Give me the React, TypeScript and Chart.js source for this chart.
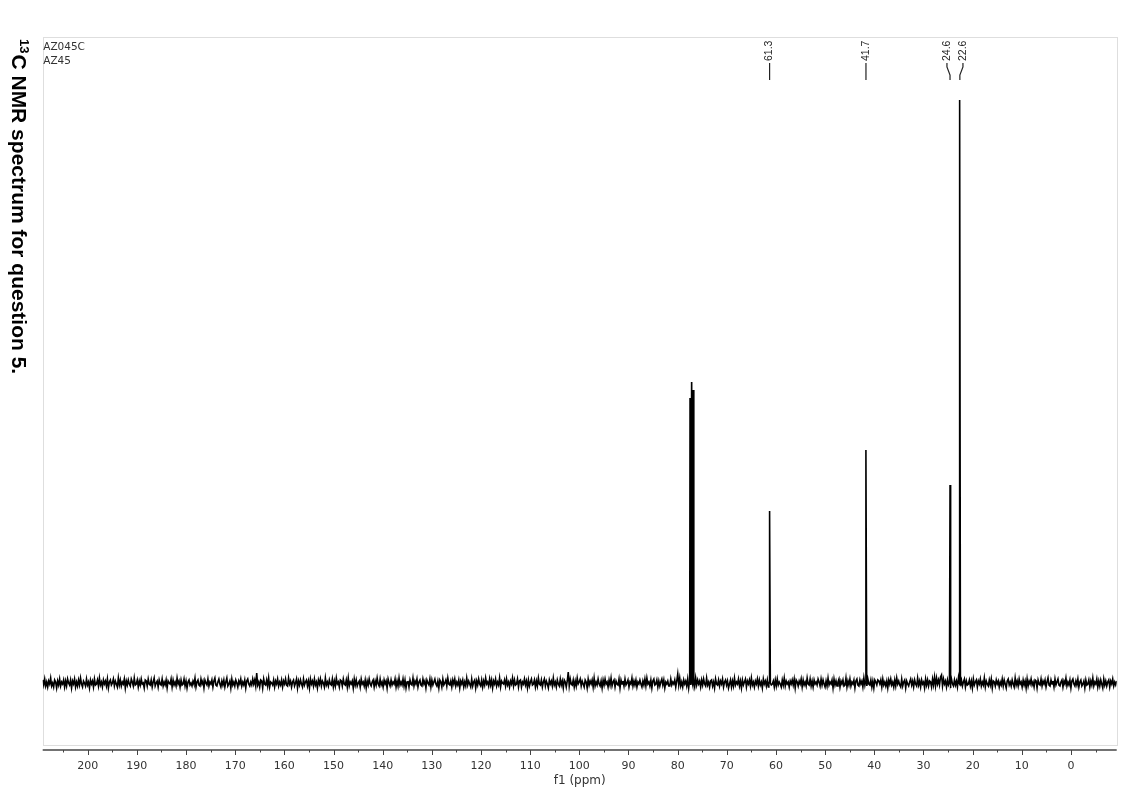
import React, { useEffect, useRef } from 'react';
import { Chart, registerables } from 'chart.js';

Chart.register(...registerables);

// ---- axis range (ppm) and intensity range ----
const X_MAX = 209.15;
const X_MIN = -9.3;
const Y_MIN = -62;
const Y_MAX = 646;

// ---- tick labels ----
const MAJOR_TICKS = [200, 190, 180, 170, 160, 150, 140, 130, 120, 110, 100, 90, 80, 70, 60, 50, 40, 30, 20, 10, 0];
const MINOR_TICKS = [205, 195, 185, 175, 165, 155, 145, 135, 125, 115, 105, 95, 85, 75, 65, 55, 45, 35, 25, 15, 5, -5];

// ---- peaks (ppm, intensity) ----
const PEAK_PPM = [77.48, 77.16, 76.84, 61.3, 41.7, 24.6, 22.6];
const PEAK_HEIGHT = [285, 301, 293, 172, 233, 198, 583];

// ---- peak annotations ----
const LABEL_PPM = [61.3, 41.7, 24.6, 22.6];
const LABEL_TEXT = ['61.3', '41.7', '24.6', '22.6'];

// ---- texts ----
const SAMPLE_LINES = ['AZ045C', 'AZ45'];
const TITLE_SUP = '13';
const TITLE_MAIN = 'C NMR spectrum for question 5.';
const X_TITLE = 'f1 (ppm)';

const NOISE = [
  3, -2, 4, -3, 1, -4, 2, -1, 5, -3, 0, -4, 3, 1, -5, 2, -2, 4, -3, 1, -1, 3, -4, 2, -3, 4, 0, -2, 3, -5,
  2, -1, 4, -4, 1, -3, 3, -2, 5, -1, -4, 2, 0, -3, 4, -2, 1, -5, 3, -1, 2, -4, 4, -2, -1, 3, -3, 5, -2, 1,
  -4, 3, -1, 2, -3, 4, -5, 1, 3, -2, 0, 4, -3, 2, -1, -4, 5, -2, 3, -3, 1, -1, 4, -5, 2, -2, 3, -1, -3, 4,
  1, -3, 5, -2, -1, 3, -4, 2, -2, 4, -1, 0, -5, 3, 2, -3, 4, -1, -2, 3, -4, 1, 5, -3, 0, 2, -4, 3, -1, -2,
  4, -3, 1, -2, 3, -5, 2, 0, -1, 4, -4, 3, -2, 1, -3, 5, -1, 2, -4, 3, -2, -1, 4, -3, 2, -5, 1, 3, -2, 0,
  -3, 2, -1, 5, -4, 1, 3, -2, -3, 4, -1, 2, -5, 3, 0, -2, 4, -3, 1, -1, 3, -4, 2, 5, -2, -3, 1, 4, -1, -4,
  2, -2, 3, -4, 1, 5, -3, -1, 2, -5, 4, -2, 1, -3, 3, 0, -4, 2, -1, 4, -3, 1, -2, 3, -5, 2, 4, -1, -3, 1,
  -2, 4, -1, 3, -3, 10, -2, 1, -4, 3, 2, -5, 4, -1, -2, 3, -3, 5, -4, 1, 0, -2, 3, -4, 2, -1, 4, -3, 1, -2,
  3, -4, 2, -1, 4, -2, -3, 5, -1, 2, -4, 1, 3, -3, 0, 4, -5, 2, -2, 3, -1, -4, 4, -2, 1, 3, -3, 2, -5, 4,
  -1, 2, -3, 4, -2, 1, -5, 3, -1, 4, -3, 2, 0, -4, 5, -2, 1, -3, 3, -1, -2, 4, -4, 2, -3, 5, -1, 1, -4, 3,
  2, -3, 4, -1, -2, 3, -4, 5, -3, 1, -1, 2, -5, 4, -2, 3, -3, 0, 2, -4, 4, -1, 1, -3, 3, -5, 2, -2, 4, -1,
  -3, 1, 3, -4, 2, -2, 5, -1, -3, 4, -2, 1, -4, 3, -1, 2, -5, 4, 0, -3, 3, -2, 1, -1, 4, -4, 2, -3, 5, -2,
  1, -2, 4, -3, 3, -5, 1, 2, -4, 3, -1, -2, 5, -3, 2, -1, 4, -4, 1, 3, -2, -3, 4, -1, 2, -5, 3, 0, -2, 4,
  -4, 3, -2, 1, 4, -1, -3, 2, -5, 3, 1, -4, 4, -2, 0, 3, -3, 5, -1, -2, 2, -4, 3, -1, 4, -3, 1, -2, 3, -5,
  2, -1, 3, -4, 1, -3, 5, -2, 2, -1, -4, 4, -3, 1, 3, -5, 2, -2, 4, -1, -3, 3, -4, 2, -2, 5, -1, 1, -3, 4,
  -2, 3, -5, 2, -1, 4, -3, 1, -2, 5, -4, 2, 0, -1, 3, -3, 4, -2, 1, -4, 2, -1, 5, -3, 3, -2, -1, 4, -4, 2,
  3, -4, 1, -1, 4, -2, 2, -5, 3, -3, 1, 4, -2, -1, 3, -4, 2, -3, 5, -1, -2, 3, -4, 1, 4, -3, 2, -1, -5, 3,
  -1, 2, -3, 5, -2, 1, -4, 3, -1, -3, 4, -2, 2, -5, 3, 1, -4, 2, 11, -3, 4, -1, -2, 3, -4, 2, -3, 5, -1, 1,
  4, -3, 2, -1, -4, 3, 1, -5, 4, -2, 2, -1, 3, -4, 5, -3, 1, -2, 4, -1, -3, 2, -5, 3, -2, 4, -1, 1, -4, 3,
  -2, 5, -3, 1, 3, -4, 2, -1, -2, 4, -5, 3, -1, 2, -3, 4, -2, 0, 3, -4, 1, -1, 5, -3, 2, -2, 3, -4, 1, -1,
  3, -1, -4, 2, -2, 4, -3, 5, -1, 1, -3, 3, -5, 2, 4, -2, -1, 3, -4, 2, -3, 1, 4, -2, 3, -5, 1, -1, 2, -3,
  -3, 4, -2, 1, -1, 3, -4, 2, 9, -2, 5, -3, 1, -4, 3, -1, 2, -3, 4, -5, 2, -2, 3, -1, 1, -4, 5, -2, 3, -1,
  2, -4, 3, -2, 4, -1, -3, 5, -2, 1, -4, 2, 3, -3, 1, -5, 4, -1, -2, 3, -3, 2, -1, 4, -4, 1, 3, -2, 2, -5,
  -1, 3, -4, 2, -3, 5, -2, 1, -1, 4, -3, 2, -5, 3, -2, 1, 4, -4, 2, -1, 3, -3, 5, -2, 1, -4, 2, -1, 4, -3,
  3, -2, 1, -5, 4, -1, 2, -3, 3, -4, 1, 5, -2, -1, 2, -4, 3, -3, 4, -2, 1, -1, -4, 3, -2, 5, -3, 2, -1, 1,
  -4, 2, -1, 3, -2, 4, -5, 3, 1, -3, 2, -1, 4, -4, 3, -2, 1, -3, 5, -1, -2, 4, -3, 2, -4, 3, -1, 1, -2, 4,
  1, -3, 4, -2, 3, -1, -4, 2, -3, 5, -2, 1, -1, 3, -5, 4, -2, 2, -3, 1, 4, -4, 2, -1, 3, -3, -2, 5, -4, 2,
  -2, 4, -3, 1, -1, 3, -5, 2, 4, -2, -3, 3, -1, 2, -4, 5, -2, 1, -3, 4, -1, -2, 3, -4, 2, -5, 3, 1, -2, 3,
  2, -1, 3, -4, 4, -2, 1, -3, 2, -5, 3, -1, 4, -2, 1, -4, 3, -3, 5, -1, 2, -2, -4, 4, -3, 1, 3, -5, 2, -1,
  -3, 1, 4, -2, 2, -4, 3, -1, -3, 5, -2, 2, -4, 3, -1, 1, -5, 4, -2, 3, -3, 2, 1, -4, 4, -2, 6, -3, 5, -1,
  3, -2, 6, 8, -3, 4, -1, 2, -4, 3, -2, 1, -5, 4, -1, -3, 3, -2, 2, -4, 5, -1, -2, 3, -3, 1, 4, -4, 2, -2,
  -1, 3, -3, 2, -5, 4, -2, 1, 3, -4, 2, -1, 4, -3, 1, -2, 5, -4, 2, -1, -3, 3, -2, 4, -5, 2, 1, -3, 3, -1,
  2, -4, 1, -2, 4, -3, 3, -1, -5, 2, 4, -2, 1, -3, 3, -1, -4, 5, -2, 2, -3, 4, -1, 1, -4, 3, -2, 2, -5, 4,
  -3, 2, -1, 4, -2, 1, -4, 3, 2, -5, 3, -1, -2, 4, -3, 2, -1, 3, -4, 1, 5, -2, -3, 3, -1, 2, -4, 4, -2, 1,
  4, -2, -3, 1, 3, -4, 2, -1, 5, -3, 1, -2, 3, -5, 2, 4, -1, -3, 2, -2, 4, -4, 1, 3, -3, -1, 2, -5, 3, -2,
  -1, 3, -4, 2, -2, 5, -3, 1, -1, 4, -4, 2, -3, 3, -1, -5, 4, -2, 2, -3, 1, 3, -4, 2, -1, 4, -3, 1, -2, 2,
];

const SANS = '"DejaVu Sans", Verdana, sans-serif';
const ARIAL = '"Liberation Sans", Arial, sans-serif';

function buildPoints() {
  const step = (X_MAX - X_MIN) / (NOISE.length - 1);
  const pts = NOISE.map((v, i) => ({ x: X_MAX - i * step, y: v }));
  PEAK_PPM.forEach((p, k) => {
    pts.push({ x: p + 0.15, y: 0 }, { x: p, y: PEAK_HEIGHT[k] }, { x: p - 0.15, y: 0 });
  });
  pts.sort((a, b) => b.x - a.x);
  return pts;
}

const decorPlugin = {
  id: 'decor',
  beforeDatasetsDraw(chart: any) {
    const { ctx, chartArea: a } = chart;
    ctx.save();
    ctx.strokeStyle = '#dedede';
    ctx.lineWidth = 1;
    ctx.strokeRect(Math.round(a.left) + 0.5, Math.round(a.top) + 0.5, Math.round(a.right - a.left), Math.round(a.bottom - a.top));
    ctx.restore();
  },
  afterDraw(chart: any) {
    const { ctx, chartArea: a } = chart;
    const xs = chart.scales.x;
    ctx.save();
    // axis line
    const axisY = a.bottom + 5;
    ctx.strokeStyle = '#444';
    ctx.lineWidth = 1.5;
    ctx.beginPath();
    ctx.moveTo(a.left, axisY);
    ctx.lineTo(a.right, axisY);
    ctx.stroke();
    ctx.lineWidth = 1;
    ctx.beginPath();
    MAJOR_TICKS.forEach((v) => {
      const px = Math.round(xs.getPixelForValue(v)) + 0.5;
      ctx.moveTo(px, axisY);
      ctx.lineTo(px, axisY + 5);
    });
    MINOR_TICKS.forEach((v) => {
      const px = Math.round(xs.getPixelForValue(v)) + 0.5;
      ctx.moveTo(px, axisY);
      ctx.lineTo(px, axisY + 2.5);
    });
    ctx.stroke();

    // sample name
    ctx.fillStyle = '#333';
    ctx.font = `10.5px ${SANS}`;
    ctx.textAlign = 'left';
    ctx.textBaseline = 'alphabetic';
    SAMPLE_LINES.forEach((t, i) => ctx.fillText(t, a.left + 0.5, 50 + i * 14));

    // peak labels
    const peakPx = LABEL_PPM.map((p) => xs.getPixelForValue(p));
    const labelPx = peakPx.slice();
    for (let i = 1; i < labelPx.length; i++) {
      if (labelPx[i] - labelPx[i - 1] < 16) {
        const mid = (peakPx[i] + peakPx[i - 1]) / 2;
        labelPx[i - 1] = mid - 8;
        labelPx[i] = mid + 8;
      }
    }
    ctx.strokeStyle = '#222';
    ctx.fillStyle = '#222';
    ctx.lineWidth = 1.2;
    ctx.font = `10.5px ${ARIAL}`;
    LABEL_TEXT.forEach((t, i) => {
      const lx = labelPx[i];
      const px = peakPx[i];
      ctx.save();
      ctx.translate(lx, 61);
      ctx.rotate(-Math.PI / 2);
      ctx.textAlign = 'left';
      ctx.textBaseline = 'middle';
      ctx.fillText(t, 0, 0);
      ctx.restore();
      ctx.beginPath();
      if (Math.abs(lx - px) < 0.5) {
        ctx.moveTo(lx, 63);
        ctx.lineTo(lx, 80);
      } else {
        ctx.moveTo(lx, 63);
        ctx.lineTo(lx, 67);
        ctx.lineTo(px, 75);
        ctx.lineTo(px, 80);
      }
      ctx.stroke();
    });

    // rotated title on the left
    ctx.save();
    ctx.translate(12, 39);
    ctx.rotate(Math.PI / 2);
    ctx.fillStyle = '#000';
    ctx.textAlign = 'left';
    ctx.textBaseline = 'alphabetic';
    ctx.font = `bold 13px ${ARIAL}`;
    ctx.fillText(TITLE_SUP, 0, -8);
    const w = ctx.measureText(TITLE_SUP).width;
    ctx.font = `bold 21px ${ARIAL}`;
    ctx.fillText(TITLE_MAIN, w + 1, 0);
    ctx.restore();

    ctx.restore();
  },
};

export default function App() {
  const ref = useRef<HTMLCanvasElement>(null);
  useEffect(() => {
    if (!ref.current) return;
    const chart = new Chart(ref.current, {
      type: 'line',
      data: {
        datasets: [
          {
            data: buildPoints(),
            borderColor: '#000',
            borderWidth: 1.6,
            pointRadius: 0,
            tension: 0,
            fill: false,
          },
        ],
      },
      options: {
        animation: false,
        responsive: false,
        devicePixelRatio: 1,
        parsing: false,
        layout: { padding: { left: 42.7, right: 23.3, top: 37, bottom: 0 } },
        plugins: { legend: { display: false }, tooltip: { enabled: false } },
        scales: {
          x: {
            type: 'linear',
            reverse: true,
            bounds: 'data',
            min: X_MIN,
            max: X_MAX,
            grid: { display: false, drawTicks: false },
            border: { display: false },
            ticks: {
              font: { family: SANS, size: 11 },
              color: '#333',
              padding: 15,
              maxRotation: 0,
              autoSkip: false,
            },
            afterBuildTicks: (s: any) => {
              s.ticks = MAJOR_TICKS.map((v) => ({ value: v }));
            },
            afterFit: (s: any) => {
              s.height = 66;
            },
            title: {
              display: true,
              text: X_TITLE,
              font: { family: SANS, size: 12 },
              color: '#333',
              padding: { top: 0, bottom: 23 },
            },
          },
          y: {
            type: 'linear',
            display: false,
            min: Y_MIN,
            max: Y_MAX,
          },
        },
      },
      plugins: [decorPlugin],
    } as any);
    return () => chart.destroy();
  }, []);
  return (
    <div style={{ position: 'absolute', left: 0, top: 0, width: 1140, height: 811, background: '#fff' }}>
      <canvas ref={ref} width={1140} height={811} style={{ display: 'block' }} />
    </div>
  );
}
